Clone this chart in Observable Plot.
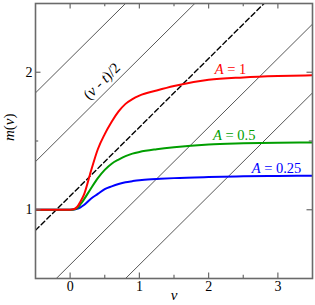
<!DOCTYPE html>
<html><head><meta charset="utf-8">
<script src="https://cdn.jsdelivr.net/npm/d3@7"></script>
<script src="https://cdn.jsdelivr.net/npm/@observablehq/plot@0.6"></script>
<style>body{margin:0;background:#fff} svg{display:block} svg text{font-family:"Liberation Serif","Times New Roman",serif}</style>
</head><body><div id="chart"></div>
<script>
// ---- data ----
const vGrid = [-0.5, 0, 0.05, 0.1, 0.15, 0.2, 0.3, 0.4, 0.5, 0.6, 0.7, 0.8, 0.9, 1.0, 1.25, 1.5, 2.0, 2.5, 3.0, 3.5];
const mA1   = [1, 1, 1.003, 1.02, 1.06, 1.11, 1.28, 1.44, 1.55, 1.64, 1.715, 1.77, 1.805, 1.83, 1.867, 1.90, 1.945, 1.962, 1.972, 1.978];
const mA05  = [1, 1, 1.002, 1.012, 1.04, 1.075, 1.155, 1.23, 1.29, 1.335, 1.365, 1.39, 1.408, 1.42, 1.44, 1.455, 1.475, 1.483, 1.488, 1.49];
const mA025 = [1, 1, 1.001, 1.006, 1.018, 1.035, 1.08, 1.115, 1.15, 1.17, 1.187, 1.20, 1.208, 1.215, 1.223, 1.23, 1.238, 1.243, 1.246, 1.247];
const seriesNames  = ["A = 0.25", "A = 0.5", "A = 1"];
const seriesColors = ["#0000ff", "#009e00", "#ff0000"];
const seriesLabelV = [2.98, 2.37, 2.315];
const seriesLabelM = [1.266, 1.504, 1.986];
const solidIntercepts  = [2.1, 1.6, 0.6, 0.1];   // lines m = c + v/2
const dashedIntercepts = [1.1];
const lineSlope = 0.5;
const xDomain = [-0.5, 3.5];
const yDomain = [0.5, 2.5];
const xMajor = [0, 1, 2, 3];
const xMinor = [0.5, 1.5, 2.5];
const yMajor = [1, 2];
const yMinor = [1.5];
const slopeLabel = {text: "(v - t)/2", v: 0.458, m: 1.935};

// ---- build tables ----
const curveRows = [];
[mA025, mA05, mA1].forEach((arr, i) => arr.forEach((m, j) => curveRows.push({v: vGrid[j], m, s: seriesNames[i]})));
const mkLines = cs => cs.flatMap(c => xDomain.map(v => ({v, m: c + lineSlope * v, c})));
const solidRows = mkLines(solidIntercepts);
const dashedRows = mkLines(dashedIntercepts);
const labelRows = seriesNames.map((s, i) => ({s, v: seriesLabelV[i], m: seriesLabelM[i]}));

const W = 315, H = 305, ML = 35, MR = 3, MT = 3, MB = 27;
const innerW = W - ML - MR, innerH = H - MT - MB;
const frameColor = "#6a6a6a";
const major = 5.5, minor = 3.2;
const FF = "Liberation Serif";

const chart = Plot.plot({
  width: W, height: H,
  marginLeft: ML, marginRight: MR, marginTop: MT, marginBottom: MB,
  x: {domain: xDomain},
  y: {domain: yDomain},
  color: {domain: seriesNames, range: seriesColors},
  style: {fontFamily: FF, fontSize: "14px", color: "#000", background: "#fff"},
  marks: [
    Plot.line(solidRows, {x: "v", y: "m", z: "c", stroke: "#444", strokeWidth: 0.9, clip: true}),
    Plot.line(dashedRows, {x: "v", y: "m", z: "c", stroke: "#000", strokeWidth: 1.4, strokeDasharray: "5,3", clip: true}),
    Plot.line(curveRows, {x: "v", y: "m", z: "s", stroke: "s", strokeWidth: 2, curve: "monotone-x", clip: true}),
    Plot.text(labelRows, {x: "v", y: "m", text: "s", fill: "s", fontSize: 14.5, fontFamily: FF, lineAnchor: "bottom", textAnchor: "middle"}),
    Plot.text([slopeLabel], {x: "v", y: "m", text: "text", rotate: -45, fontSize: 15, fontFamily: FF, textAnchor: "middle", lineAnchor: "middle"}),
    // inward ticks (bottom/top/left/right)
    Plot.tickX(xMajor, {x: d => d, insetTop: innerH - major, stroke: frameColor, strokeWidth: 1.2}),
    Plot.tickX(xMinor, {x: d => d, insetTop: innerH - minor, stroke: frameColor, strokeWidth: 1.2}),
    Plot.tickX(xMajor, {x: d => d, insetBottom: innerH - major, stroke: frameColor, strokeWidth: 1.2}),
    Plot.tickX(xMinor, {x: d => d, insetBottom: innerH - minor, stroke: frameColor, strokeWidth: 1.2}),
    Plot.tickY(yMajor, {y: d => d, insetRight: innerW - major, stroke: frameColor, strokeWidth: 1.2}),
    Plot.tickY(yMinor, {y: d => d, insetRight: innerW - minor, stroke: frameColor, strokeWidth: 1.2}),
    Plot.tickY(yMajor, {y: d => d, insetLeft: innerW - major, stroke: frameColor, strokeWidth: 1.2}),
    Plot.tickY(yMinor, {y: d => d, insetLeft: innerW - minor, stroke: frameColor, strokeWidth: 1.2}),
    Plot.axisX(xMajor, {tickSize: 0, tickPadding: 3, label: null, fontSize: 14, fontFamily: FF, tickFormat: d => String(d)}),
    Plot.axisY(yMajor, {tickSize: 0, tickPadding: 3, label: null, fontSize: 14, fontFamily: FF, tickFormat: d => String(d)}),
    Plot.frame({stroke: frameColor, strokeWidth: 1.6}),
    Plot.text(["m(v)"], {frameAnchor: "left", dx: -26, rotate: -90, text: d => d, fontSize: 15, fontFamily: FF, lineAnchor: "middle"}),
    Plot.text(["v"], {frameAnchor: "bottom", dy: 17, text: d => d, fontSize: 15, fontFamily: FF, lineAnchor: "middle", fontStyle: "italic"})
  ]
});
document.getElementById("chart").appendChild(chart);

// italicize variable letters inside the texts
const NS = "http://www.w3.org/2000/svg";
const italicMap = {
  "m(v)": [["m", 1], ["(", 0], ["v", 1], [")", 0]],
  "(v - t)/2": [["(", 0], ["v", 1], [" - ", 0], ["t", 1], [")/2", 0]],
  "A = 1": [["A", 1], [" = 1", 0]],
  "A = 0.5": [["A", 1], [" = 0.5", 0]],
  "A = 0.25": [["A", 1], [" = 0.25", 0]]
};
chart.querySelectorAll("text").forEach(t => {
  const parts = italicMap[t.textContent];
  if (!parts) return;
  t.textContent = "";
  for (const [s, it] of parts) {
    const ts = document.createElementNS(NS, "tspan");
    ts.textContent = s;
    if (it) ts.setAttribute("font-style", "italic");
    t.appendChild(ts);
  }
});
</script>
</body></html>
